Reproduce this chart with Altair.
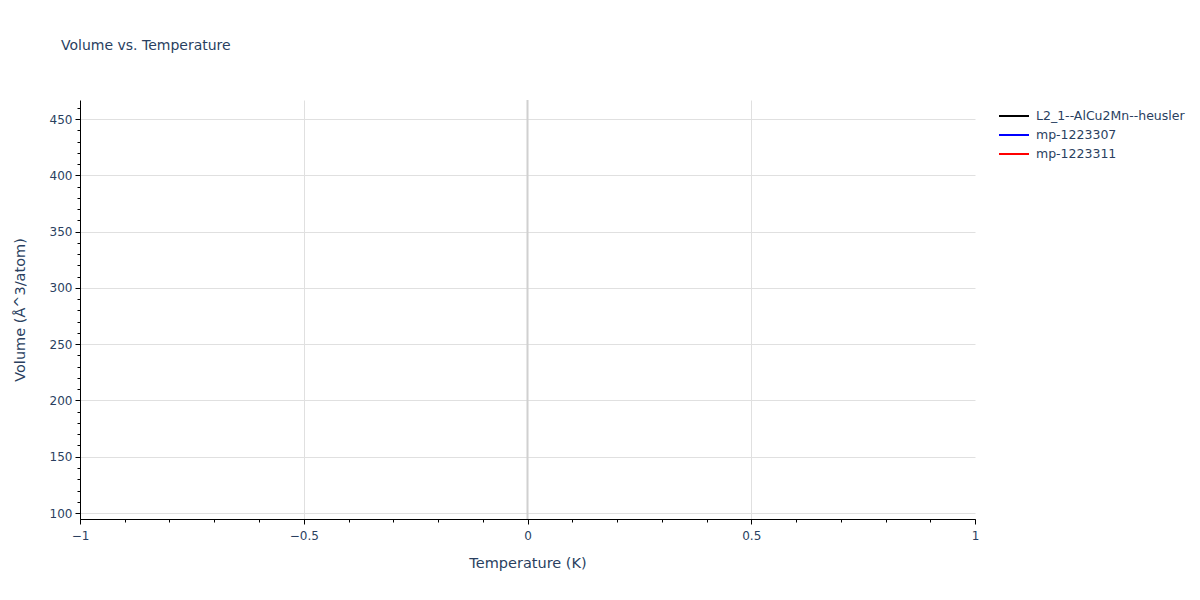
import altair as alt
import pandas as pd

series_names = ["L2_1--AlCu2Mn--heusler", "mp-1223307", "mp-1223311"]
series_colors = ["black", "blue", "red"]
# The reference shows no plotted points: each series is empty
temperature = [None, None, None]
volume = [None, None, None]

x_domain = [-1, 1]
y_domain = [94.7, 466.9]
x_ticks = [-1, -0.5, 0, 0.5, 1]
x_grid = [-0.5, 0.5]
y_ticks = [100, 150, 200, 250, 300, 350, 400, 450]
x_minor = [round(-1 + 0.1 * i, 1) for i in range(21)]
y_minor = list(range(100, 461, 10))
zero_line = [0]

df = pd.DataFrame({"series": series_names, "temperature": temperature, "volume": volume})
zero_df = pd.DataFrame({"x": zero_line})

FONT = "DejaVu Sans"
TXT = "#2a3f5f"
xs = alt.Scale(domain=x_domain, nice=False, zero=False)
ys = alt.Scale(domain=y_domain, nice=False, zero=False)
minus = "replace(format(datum.value, ''), '-', '\u2212')"

lines = alt.Chart(df).mark_line(strokeWidth=2).encode(
    x=alt.X("temperature:Q", scale=xs, title="Temperature (K)",
            axis=alt.Axis(values=x_ticks, labelExpr=minus, grid=False, labelFlush=False,
                          domainColor="black", tickColor="black", tickSize=5, labelPadding=6,
                          labelColor=TXT, labelFont=FONT, labelFontSize=12,
                          titleColor=TXT, titleFont=FONT, titleFontSize=14.5, titleFontWeight="normal",
                          titlePadding=15, orient="bottom")),
    y=alt.Y("volume:Q", scale=ys, title="Volume (Å^3/atom)",
            axis=alt.Axis(values=y_ticks, grid=True, gridColor="#e0e0e0", labelFlush=False,
                          domainColor="black", tickColor="black", tickSize=5, labelPadding=3,
                          labelColor=TXT, labelFont=FONT, labelFontSize=12,
                          titleColor=TXT, titleFont=FONT, titleFontSize=14.5, titleFontWeight="normal",
                          titlePadding=22, orient="left")),
    color=alt.Color("series:N", scale=alt.Scale(domain=series_names, range=series_colors),
                    legend=alt.Legend(title=None, orient="none", legendX=925.5, legendY=7.5,
                                      symbolType="M-2,0L2,0", symbolSize=225, symbolStrokeWidth=2,
                                      labelFont=FONT, labelFontSize=12.5, labelColor=TXT,
                                      rowPadding=4, labelOffset=13.5)),
)

gridlayer = alt.Chart(df).mark_line(opacity=0).encode(
    x=alt.X("temperature:Q", scale=xs, title=None,
            axis=alt.Axis(values=x_grid, labels=False, ticks=False, domain=False,
                          grid=True, gridColor="#e0e0e0", orient="bottom")),
)

zero = alt.Chart(zero_df).mark_rule(color="#d0d0d0", strokeWidth=2).encode(
    x=alt.X("x:Q", scale=xs, axis=None)
)

minor = alt.Chart(df).mark_line(opacity=0).encode(
    x=alt.X("temperature:Q", scale=xs, title=None,
            axis=alt.Axis(values=x_minor, labels=False, grid=False, domain=False,
                          tickColor="black", tickSize=3, orient="bottom")),
    y=alt.Y("volume:Q", scale=ys, title=None,
            axis=alt.Axis(values=y_minor, labels=False, grid=False, domain=False,
                          tickColor="black", tickSize=3, orient="left")),
)

chart = alt.layer(gridlayer, zero, minor, lines).resolve_axis(x="independent", y="independent").properties(
    width=895, height=419,
    autosize=alt.AutoSizeParams(type="none"),
    padding={"left": 72, "top": 92, "right": 215, "bottom": 73},
    title=alt.TitleParams("Volume vs. Temperature", anchor="start", frame="group", dx=-19, offset=46,
                          font=FONT, fontSize=14, fontWeight="normal", color=TXT),
).configure(background="white").configure_view(stroke="transparent", strokeWidth=0)

chart.save("out.html", embed_options={"renderer": "svg", "actions": False})
